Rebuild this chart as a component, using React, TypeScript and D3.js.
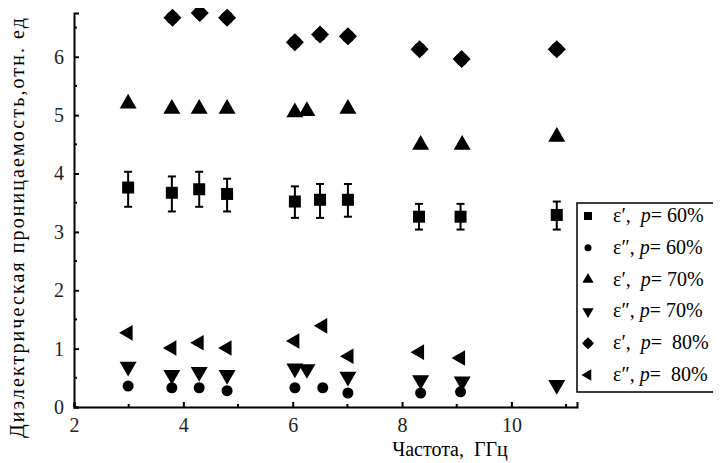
import React, { useEffect, useRef } from "react"
import * as d3 from "d3"

// frequencies, GHz
const freqs = [2.99, 3.79, 4.29, 4.8, 6.04, 6.5, 7.01, 8.31, 9.07, 10.83]

// eps' p=60% with error bars
const eps1_60 = [3.76, 3.67, 3.73, 3.65, 3.52, 3.55, 3.55, 3.26, 3.26, 3.29]
const eps1_60_hi = [4.03, 3.95, 4.03, 3.91, 3.78, 3.82, 3.82, 3.48, 3.48, 3.52]
const eps1_60_lo = [3.43, 3.35, 3.43, 3.35, 3.24, 3.24, 3.26, 3.04, 3.04, 3.04]

const eps2_60x = [2.99, 3.79, 4.29, 4.8, 6.04, 6.55, 7.01, 8.34, 9.07]
const eps2_60 = [0.36, 0.33, 0.33, 0.28, 0.33, 0.33, 0.24, 0.24, 0.26]

const eps1_70x = [2.99, 3.79, 4.29, 4.8, 6.04, 6.26, 7.01, 8.34, 9.1, 10.83]
const eps1_70 = [5.2, 5.11, 5.11, 5.11, 5.05, 5.07, 5.11, 4.49, 4.49, 4.63]

const eps2_70x = [2.99, 3.79, 4.29, 4.8, 6.04, 6.26, 7.01, 8.34, 9.1, 10.83]
const eps2_70 = [0.69, 0.55, 0.6, 0.55, 0.66, 0.65, 0.52, 0.46, 0.44, 0.38]

const eps1_80x = [3.8, 4.3, 4.8, 6.04, 6.5, 7.01, 8.32, 9.09, 10.83]
const eps1_80 = [6.67, 6.75, 6.67, 6.25, 6.38, 6.35, 6.13, 5.96, 6.13]

const eps2_80x = [2.99, 3.79, 4.29, 4.8, 6.04, 6.55, 7.03, 8.32, 9.07]
const eps2_80 = [1.27, 1.01, 1.1, 1.01, 1.13, 1.39, 0.87, 0.94, 0.84]

const xTicks = [2, 4, 6, 8, 10]
const yTicks = [0, 1, 2, 3, 4, 5, 6]

const legendLabels = [
  { e: "ε′, ", p: "60%" },
  { e: "ε″,", p: "60%" },
  { e: "ε′, ", p: "70%" },
  { e: "ε″,", p: "70%" },
  { e: "ε′, ", p: " 80%" },
  { e: "ε″,", p: " 80%" },
]

const W = 721
const H = 463
const margin = { left: 74, right: 144, top: 13, bottom: 56 }
const font = "'Liberation Serif', 'DejaVu Serif', 'Times New Roman', serif"

export default function App() {
  const ref = useRef<SVGSVGElement>(null)

  useEffect(() => {
    const svg = d3.select(ref.current)
    svg.selectAll("*").remove()

    const x = d3.scaleLinear().domain([2, 11.2]).range([margin.left, W - margin.right])
    const y = d3.scaleLinear().domain([0, 6.75]).range([H - margin.bottom, margin.top])

    // axes
    const xAxis = d3.axisBottom(x).tickValues(xTicks).tickSize(-5).tickPadding(11).tickFormat(d3.format("d"))
    const gx = svg.append("g").attr("transform", `translate(0,${y(0)})`).call(xAxis)
    gx.attr("font-family", null).attr("font-size", null)
    gx.select(".domain").attr("stroke-width", 2)
    gx.selectAll(".tick line").attr("stroke-width", 2)
    gx.selectAll("text").style("font-size", "20px").style("font-family", font).attr("fill", "#222")
    svg.append("g").selectAll("line").data([3, 5, 7, 9, 11]).join("line")
      .attr("x1", d => x(d)).attr("x2", d => x(d)).attr("y1", y(0)).attr("y2", y(0) - 3)
      .attr("stroke", "#000").attr("stroke-width", 2)

    const yAxis = d3.axisLeft(y).tickValues(yTicks).tickSize(-5).tickPadding(10).tickFormat(d3.format("d"))
    const gy = svg.append("g").attr("transform", `translate(${margin.left},0)`).call(yAxis)
    gy.attr("font-family", null).attr("font-size", null)
    gy.select(".domain").attr("stroke-width", 2)
    gy.selectAll(".tick line").attr("stroke-width", 2)
    gy.selectAll("text").style("font-size", "20px").style("font-family", font).attr("fill", "#222")
    svg.append("g").selectAll("line").data([0.5, 1.5, 2.5, 3.5, 4.5, 5.5, 6.5]).join("line")
      .attr("x1", margin.left).attr("x2", margin.left + 3).attr("y1", d => y(d)).attr("y2", d => y(d))
      .attr("stroke", "#000").attr("stroke-width", 2)

    // labels
    svg.append("text").attr("transform", `translate(24,228) rotate(-90)`)
      .attr("text-anchor", "middle").style("font-family", font).style("font-size", "20px")
      .attr("textLength", 420).attr("lengthAdjust", "spacing")
      .text("Диэлектрическая проницаемость,отн. ед")
    svg.append("text").attr("x", 450).attr("y", 456).attr("text-anchor", "middle")
      .style("font-family", font).style("font-size", "20px").style("white-space", "pre")
      .text("Частота,  ГГц")

    // marker drawers
    const drawSquare = (g: any, s: number) => g.append("rect").attr("x", -s / 2).attr("y", -s / 2).attr("width", s).attr("height", s)
    const drawCircle = (g: any, r: number) => g.append("circle").attr("r", r)
    const tri = (g: any, size: number, rot: number) =>
      g.append("path").attr("d", d3.symbol(d3.symbolTriangle, size)()).attr("transform", `rotate(${rot})`)
    const drawDiamond = (g: any, r: number) => {
      g.append("circle").attr("r", r * 0.72)
      g.append("path").attr("d", `M0,${-r}L${r},0L0,${r}L${-r},0Z`)
    }

    const plot = svg.append("g").attr("fill", "#000")

    // error bars eps' 60
    const eb = plot.append("g").attr("stroke", "#000").attr("stroke-width", 2)
    freqs.forEach((f, i) => {
      const cx = x(f)
      eb.append("line").attr("x1", cx).attr("x2", cx).attr("y1", y(eps1_60_hi[i])).attr("y2", y(eps1_60_lo[i]))
      eb.append("line").attr("x1", cx - 4).attr("x2", cx + 4).attr("y1", y(eps1_60_hi[i])).attr("y2", y(eps1_60_hi[i]))
      eb.append("line").attr("x1", cx - 4).attr("x2", cx + 4).attr("y1", y(eps1_60_lo[i])).attr("y2", y(eps1_60_lo[i]))
    })

    freqs.forEach((f, i) => drawSquare(plot.append("g").attr("transform", `translate(${x(f)},${y(eps1_60[i])})`), 12))
    eps2_60x.forEach((f, i) => drawCircle(plot.append("g").attr("transform", `translate(${x(f)},${y(eps2_60[i])})`), 5.5))
    eps1_70x.forEach((f, i) => tri(plot.append("g").attr("transform", `translate(${x(f)},${y(eps1_70[i])})`), 125, 0))
    eps2_70x.forEach((f, i) => tri(plot.append("g").attr("transform", `translate(${x(f)},${y(eps2_70[i])})`), 125, 180))
    eps1_80x.forEach((f, i) => drawDiamond(plot.append("g").attr("transform", `translate(${x(f)},${y(eps1_80[i])})`), 9))
    eps2_80x.forEach((f, i) => tri(plot.append("g").attr("transform", `translate(${x(f)},${y(eps2_80[i])})`), 105, -90))

    // legend
    const lg = svg.append("g").attr("transform", "translate(577,203)")
    lg.append("rect").attr("width", 150).attr("height", 189).attr("fill", "#fff").attr("stroke", "#000").attr("stroke-width", 1.5)
    const symbols = [
      (g: any) => drawSquare(g, 8),
      (g: any) => drawCircle(g, 3.5),
      (g: any) => tri(g, 55, 0),
      (g: any) => tri(g, 55, 180),
      (g: any) => drawDiamond(g, 6),
      (g: any) => tri(g, 55, -90),
    ]
    legendLabels.forEach((l, i) => {
      const cy = 13 + i * 31.8
      symbols[i](lg.append("g").attr("transform", `translate(11,${cy})`).attr("fill", "#000"))
      const t = lg.append("text").attr("x", 36).attr("y", cy + 6)
        .style("font-family", font).style("font-size", "20px").style("white-space", "pre")
      t.append("tspan").text(l.e)
      t.append("tspan").style("font-style", "italic").text(" p")
      t.append("tspan").text("= " + l.p)
    })
  }, [])

  return <svg ref={ref} width={W} height={H} style={{ display: "block", margin: "-8px 0 0 -8px" }} />
}
